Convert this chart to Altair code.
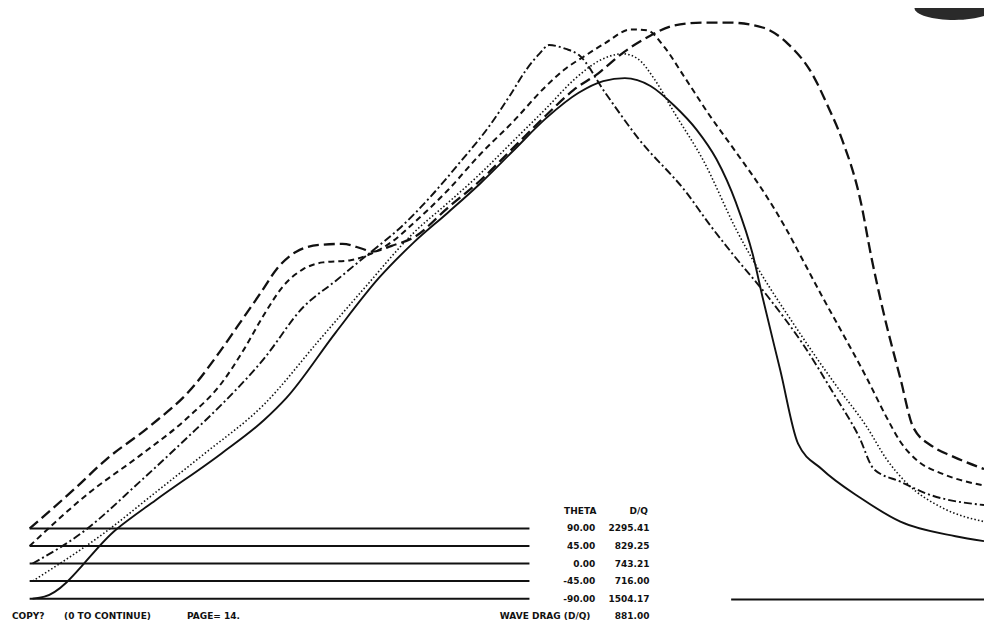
import altair as alt
import pandas as pd

# ---------------- data ----------------
THETA_LABELS = ["90.00", "45.00", "0.00", "-45.00", "-90.00"]
DQ_LABELS = ["2295.41", "829.25", "743.21", "716.00", "1504.17"]
WAVE_DRAG = "881.00"
BASELINES = [97, 79, 61, 43, 25]          # offset level of each curve
RIGHT_BASE = 24

# theta = 90 (long dash)
x90 = [22, 67, 100, 143, 187, 215, 233, 257, 273, 293, 317, 340, 360, 370, 390, 413, 447, 480, 513, 547,
       575, 600, 625, 650, 677, 705, 733, 767, 793, 817, 833, 847, 867, 877, 890, 907, 920, 940, 960, 992]
y90 = [97, 137, 168, 201, 241, 278, 304, 339, 363, 381, 388, 389, 384, 381, 387, 396, 426, 454, 487, 521,
       547, 564, 585, 601, 613, 616, 616, 611, 594, 564, 531, 498, 431, 378, 318, 251, 201, 181, 171, 158]
# theta = 45 (short dash)
x45 = [22, 83, 133, 183, 217, 240, 260, 280, 300, 320, 347, 367, 390, 413, 447, 480, 513, 547, 567, 585,
       607, 633, 650, 667, 687, 713, 740, 767, 790, 807, 827, 850, 873, 893, 907, 925, 950, 992]
y45 = [79, 134, 171, 211, 246, 281, 316, 346, 363, 370, 372, 378, 391, 411, 444, 481, 514, 551, 569, 581,
       595, 609, 608, 591, 561, 521, 483, 444, 406, 374, 336, 294, 251, 211, 186, 166, 153, 141]
# theta = 0 (dash-dot)
x0 = [25, 77, 133, 183, 217, 260, 300, 333, 357, 373, 397, 430, 458, 490, 510, 527, 540, 550, 567, 580,
      607, 640, 690, 713, 737, 773, 808, 840, 865, 880, 907, 933, 992]
y0 = [61, 94, 144, 191, 224, 271, 324, 351, 371, 384, 404, 438, 471, 511, 541, 568, 584, 593, 589, 583,
      544, 498, 441, 409, 378, 334, 286, 234, 191, 158, 145, 133, 121]
# theta = -45 (dotted)
xm45 = [25, 100, 150, 200, 260, 317, 360, 413, 447, 480, 513, 547, 577, 603, 625, 640, 657, 677, 707, 740,
        807, 840, 873, 893, 913, 950, 992]
ym45 = [43, 94, 134, 174, 224, 291, 341, 401, 431, 461, 494, 528, 559, 578, 584, 579, 558, 524, 474, 404,
        294, 246, 201, 168, 144, 118, 104]
# theta = -90 (solid)
xm90 = [25, 37, 110, 150, 217, 260, 283, 333, 377, 413, 447, 480, 513, 547, 580, 605, 627, 653, 677, 700,
        720, 740, 757, 767, 785, 803, 827, 867, 907, 963, 992]
ym90 = [25, 27, 96, 126, 174, 208, 231, 298, 354, 391, 421, 451, 484, 518, 544, 556, 559, 551, 531, 506,
        476, 431, 378, 334, 259, 184, 158, 128, 104, 89, 84]

CURVES = [(x90, y90), (x45, y45), (x0, y0), (xm45, ym45), (xm90, ym90)]

# ---------------- layout / styling ----------------
W, H = 976, 615                 # drawing box inside the 8px page margin
SRC_W, SRC_H = 992, 631         # extent of the original sheet
SX, SY = W / SRC_W, H / SRC_H

DASHES = [[11, 5], [6, 4], [8, 3, 2, 3], [1.5, 2.2], None]
WIDTHS = [2.3, 2.0, 1.9, 1.6, 1.9]
INK = "#111111"
FONT = "DejaVu Sans"

xs = alt.Scale(domain=[0, SRC_W], nice=False, zero=False)
ys = alt.Scale(domain=[0, SRC_H], nice=False, zero=False)

layers = []

# baseline / legend rules
legend_df = pd.DataFrame({"h": BASELINES, "x0": [22] * 5, "x1": [530] * 5})
layers.append(
    alt.Chart(legend_df).mark_rule(color=INK, strokeWidth=2).encode(
        x=alt.X("x0:Q", scale=xs, axis=None),
        x2="x1:Q",
        y=alt.Y("h:Q", scale=ys, axis=None),
    )
)
right_df = pd.DataFrame({"h": [RIGHT_BASE], "x0": [735], "x1": [992]})
layers.append(
    alt.Chart(right_df).mark_rule(color=INK, strokeWidth=2).encode(
        x=alt.X("x0:Q", scale=xs, axis=None),
        x2="x1:Q",
        y=alt.Y("h:Q", scale=ys, axis=None),
    )
)

# curves
for i, (xv, yv) in enumerate(CURVES):
    df = pd.DataFrame({"x": xv, "h": yv})
    kw = dict(color=INK, strokeWidth=WIDTHS[i], interpolate="monotone", strokeCap="butt")
    if DASHES[i] is not None:
        kw["strokeDash"] = DASHES[i]
    layers.append(
        alt.Chart(df).mark_line(**kw).encode(
            x=alt.X("x:Q", scale=xs, axis=None),
            y=alt.Y("h:Q", scale=ys, axis=None),
        )
    )

# table text
tab = pd.DataFrame({"h": BASELINES, "theta": THETA_LABELS, "dq": DQ_LABELS})
txt = dict(font=FONT, fontWeight="bold", fontSize=9, color=INK, baseline="middle")
layers.append(
    alt.Chart(tab).mark_text(align="right", **txt).encode(
        x=alt.value(597 * SX), y=alt.Y("h:Q", scale=ys, axis=None), text="theta:N"
    )
)
layers.append(
    alt.Chart(tab).mark_text(align="right", **txt).encode(
        x=alt.value(652 * SX), y=alt.Y("h:Q", scale=ys, axis=None), text="dq:N"
    )
)


def label(s, px, py, align):
    return alt.Chart(pd.DataFrame({"t": [s]})).mark_text(align=align, **txt).encode(
        x=alt.value(px * SX), y=alt.value(py * SY), text="t:N"
    )


layers += [
    label("THETA", 598, 516, "right"),
    label("D/Q", 641, 516, "center"),
    label("COPY?", 4, 624, "left"),
    label("(0 TO CONTINUE)", 57, 624, "left"),
    label("PAGE= 14.", 182, 624, "left"),
    label("WAVE DRAG (D/Q)", 592, 624, "right"),
    label(WAVE_DRAG, 652, 624, "right"),
]

# scanner smudge at the top right corner
blob = alt.Chart(pd.DataFrame({"k": [1]})).mark_point(
    shape="M -1 0 A 1 0.3 0 1 0 1 0 A 1 0.3 0 1 0 -1 0 Z",
    filled=True, color="#2a2a2a", opacity=1, size=6400,
).encode(x=alt.value(962 * SX), y=alt.value(0))
layers.append(blob)

chart = alt.layer(*layers).properties(
    width=W, height=H, padding=0, background="white",
    autosize=alt.AutoSizeParams(type="none"),
).configure_view(stroke=None)

chart.save("out.html", embed_options={"renderer": "svg", "actions": False})
